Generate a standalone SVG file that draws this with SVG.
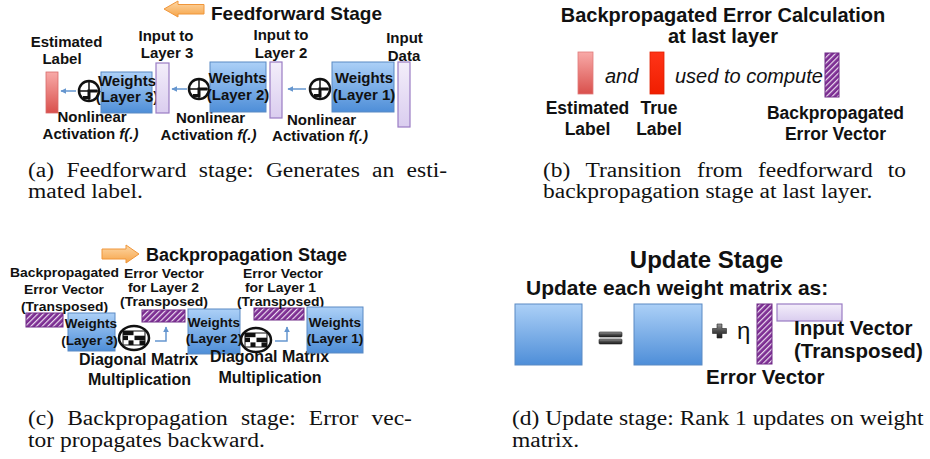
<svg xmlns="http://www.w3.org/2000/svg" width="930" height="459" viewBox="0 0 930 459">
<style>
.lb{font-family:"Liberation Sans",Arial,sans-serif;font-weight:bold;fill:#111}
.it{font-family:"Liberation Sans",Arial,sans-serif;font-style:italic;fill:#111}
.cap{font-family:"Liberation Serif","Times New Roman",serif;font-size:20px;fill:#111}
.mid{text-anchor:middle}
.s15{font-size:15px}
.s13{font-size:13px}
.s135{font-size:13.5px}
.s16{font-size:16px}
.s175{font-size:17.5px}
.s20{font-size:20px}
.s205{font-size:20.5px}
.w{fill:url(#blueG);stroke:#5b8ac4;stroke-width:1}
.lav{fill:url(#lavG);stroke:#9a7cc4;stroke-width:1.2}
.hatch{fill:url(#hatch);stroke:#6e2a86;stroke-width:1}
.orange{fill:url(#orG);stroke:#f0963a;stroke-width:1}
.conn{fill:none;stroke:#6596cf;stroke-width:1.5;marker-end:url(#ah)}
.gray{fill:url(#grayG);stroke:#222;stroke-width:0.6}
</style>
<defs>
<linearGradient id="blueG" x1="0" y1="0" x2="0" y2="1"><stop offset="0" stop-color="#acd0f7"/><stop offset="1" stop-color="#4e8ed8"/></linearGradient>
<linearGradient id="lavG" x1="0" y1="0" x2="0" y2="1"><stop offset="0" stop-color="#f3eefa"/><stop offset="1" stop-color="#dacdef"/></linearGradient>
<linearGradient id="redG" x1="0" y1="0" x2="0" y2="1"><stop offset="0" stop-color="#f8aaa8"/><stop offset="1" stop-color="#d9504c"/></linearGradient>
<linearGradient id="trueG" x1="0" y1="0" x2="0" y2="1"><stop offset="0" stop-color="#ff3418"/><stop offset="1" stop-color="#f01e00"/></linearGradient>
<linearGradient id="orG" x1="0" y1="0" x2="0" y2="1"><stop offset="0" stop-color="#fdd7a6"/><stop offset="1" stop-color="#f6a448"/></linearGradient>
<linearGradient id="grayG" x1="0" y1="0" x2="0" y2="1"><stop offset="0" stop-color="#9a9a9a"/><stop offset="0.5" stop-color="#4a4a4a"/><stop offset="1" stop-color="#1a1a1a"/></linearGradient>
<pattern id="hatch" width="4" height="4" patternUnits="userSpaceOnUse" patternTransform="rotate(45)"><rect width="4" height="4" fill="#7c2d92"/><rect width="1.2" height="4" fill="#ecdcf0"/></pattern>
<marker id="ah" viewBox="0 0 10 10" refX="9" refY="5" markerWidth="6" markerHeight="6" orient="auto" markerUnits="userSpaceOnUse"><path d="M0,0 L10,5 L0,10 z" fill="#6596cf"/></marker>
<g id="act">
<circle r="10" fill="#fff" stroke="#111" stroke-width="2.5"/>
<path d="M-10 0H10M0 -10V10" stroke="#111" stroke-width="1.5"/>
<path d="M-6 6.5H0V0H8" fill="none" stroke="#111" stroke-width="3"/>
</g>
<g id="diag">
<ellipse rx="15" ry="12" fill="#fff" stroke="#111" stroke-width="2.5"/>
<rect x="-11" y="-7" width="22" height="14" fill="#fff" stroke="#111" stroke-width="1"/>
<rect x="-11" y="-7" width="10.5" height="4.2" fill="#111"/>
<rect x="-11" y="-2.3" width="5" height="4.4" fill="#111"/>
<rect x="0.5" y="-2.3" width="10.5" height="4.4" fill="#111"/>
<rect x="-5.5" y="2.4" width="5" height="4.6" fill="#111"/>
<rect x="5.5" y="2.4" width="5.5" height="4.6" fill="#111"/>
</g>
</defs>
<rect width="930" height="459" fill="#fff"/>

<!-- (a) Feedforward -->
<g id="a-title">
<path class="orange" d="M164,9 L178,1 L178,4.5 L204,4.5 L204,14 L178,14 L178,17 Z"/>
<text class="lb" x="211" y="20" font-size="19px">Feedforward Stage</text>
</g>
<g id="a-estimated">
<rect x="46" y="72" width="12" height="41" fill="url(#redG)" stroke="#d86a6a" stroke-width="0.8"/>
<text class="lb s15 mid" x="66.5" y="47">Estimated</text>
<text class="lb s15 mid" x="62" y="64">Label</text>
</g>
<g id="a-act3">
<use href="#act" x="89" y="91"/>
<text class="lb s15 mid" x="92" y="122">Nonlinear</text>
<text class="lb s15 mid" x="90.5" y="139">Activation <tspan font-style="italic">f(.)</tspan></text>
</g>
<g id="a-w3">
<rect class="w" x="101" y="72" width="51" height="41"/>
<text class="lb s15 mid" x="127" y="86">Weights</text>
<text class="lb s15 mid" x="127" y="102">(Layer 3)</text>
</g>
<g id="a-in3">
<rect class="lav" x="156" y="63" width="13" height="50"/>
<text class="lb s15 mid" x="166" y="41">Input to</text>
<text class="lb s15 mid" x="167" y="58">Layer 3</text>
</g>
<g id="a-act2">
<use href="#act" x="199" y="89"/>
<text class="lb s15 mid" x="210.5" y="123">Nonlinear</text>
<text class="lb s15 mid" x="208.5" y="140">Activation <tspan font-style="italic">f(.)</tspan></text>
</g>
<g id="a-w2">
<rect class="w" x="210" y="62" width="56" height="50"/>
<text class="lb s15 mid" x="237.5" y="83">Weights</text>
<text class="lb s15 mid" x="238" y="100">(Layer 2)</text>
</g>
<g id="a-in2">
<rect class="lav" x="270" y="62" width="12" height="56"/>
<text class="lb s15 mid" x="281" y="40">Input to</text>
<text class="lb s15 mid" x="281" y="58">Layer 2</text>
</g>
<g id="a-act1">
<use href="#act" x="320" y="89"/>
<text class="lb s15 mid" x="321.5" y="125">Nonlinear</text>
<text class="lb s15 mid" x="320" y="141">Activation <tspan font-style="italic">f(.)</tspan></text>
</g>
<g id="a-w1">
<rect class="w" x="332" y="62" width="62" height="50"/>
<text class="lb s15 mid" x="364" y="83">Weights</text>
<text class="lb s15 mid" x="364" y="100">(Layer 1)</text>
</g>
<g id="a-data">
<rect class="lav" x="398" y="62" width="12" height="65"/>
<text class="lb s15 mid" x="404.5" y="43">Input</text>
<text class="lb s15 mid" x="404" y="61">Data</text>
</g>

<!-- (b) Transition -->
<g id="b-title">
<text class="lb s20 mid" x="723" y="22">Backpropagated Error Calculation</text>
<text class="lb s20 mid" x="723" y="43">at last layer</text>
</g>
<g id="b-estimated">
<rect x="578" y="52" width="15" height="42" fill="url(#redG)" stroke="#e07a7a" stroke-width="0.8"/>
<text class="lb s175 mid" x="587.5" y="114">Estimated</text>
<text class="lb s175 mid" x="587.5" y="135">Label</text>
</g>
<g id="b-and"><text class="it s20" x="605" y="83">and</text></g>
<g id="b-true">
<rect x="650" y="52" width="14" height="42" fill="url(#trueG)" stroke="#e02000" stroke-width="0.8"/>
<text class="lb s175 mid" x="659" y="114">True</text>
<text class="lb s175 mid" x="659" y="135">Label</text>
</g>
<g id="b-used"><text class="it s20" x="675" y="83">used to compute</text></g>
<g id="b-error">
<rect class="hatch" x="825" y="53" width="14" height="44"/>
<text class="lb s175 mid" x="835.5" y="119">Backpropagated</text>
<text class="lb s175 mid" x="835.5" y="140">Error Vector</text>
</g>

<!-- (c) Backpropagation -->
<g id="c-title">
<path class="orange" d="M102,249 L126,249 L126,245 L139,254 L126,263 L126,259 L102,259 Z"/>
<text class="lb" x="146" y="261" font-size="18px">Backpropagation Stage</text>
</g>
<g id="c-err3">
<rect class="hatch" x="26" y="313" width="37" height="14"/>
<text class="lb s13 mid" x="64.5" y="277" textLength="109" lengthAdjust="spacingAndGlyphs">Backpropagated</text>
<text class="lb s13 mid" x="64" y="294" textLength="80" lengthAdjust="spacingAndGlyphs">Error Vector</text>
<text class="lb s13 mid" x="64.5" y="311" textLength="87" lengthAdjust="spacingAndGlyphs">(Transposed)</text>
</g>
<g id="c-w3">
<rect class="w" x="68" y="313" width="47" height="38"/>
<text class="lb s135 mid" x="91" y="328">Weights</text>
<text class="lb s135 mid" x="89.5" y="345">(Layer 3)</text>
</g>
<g id="c-diag1">
<use href="#diag" x="134" y="338"/>
<text class="lb s16 mid" x="138.5" y="365">Diagonal Matrix</text>
<text class="lb s16 mid" x="139.5" y="385">Multiplication</text>
</g>
<g id="c-err2">
<rect class="hatch" x="142" y="310" width="43" height="12"/>
<text class="lb s13 mid" x="164" y="278" textLength="80" lengthAdjust="spacingAndGlyphs">Error Vector</text>
<text class="lb s13 mid" x="163.5" y="292" textLength="71" lengthAdjust="spacingAndGlyphs">for Layer 2</text>
<text class="lb s13 mid" x="164" y="306" textLength="88" lengthAdjust="spacingAndGlyphs">(Transposed)</text>
</g>
<g id="c-w2">
<rect class="w" x="188" y="309" width="52" height="45"/>
<text class="lb s135 mid" x="214" y="327">Weights</text>
<text class="lb s135 mid" x="214" y="343">(Layer 2)</text>
</g>
<g id="c-diag2">
<use href="#diag" x="256" y="340"/>
<text class="lb s16 mid" x="269.5" y="362">Diagonal Matrix</text>
<text class="lb s16 mid" x="270" y="383">Multiplication</text>
</g>
<g id="c-err1">
<rect class="hatch" x="254" y="308" width="50" height="12"/>
<text class="lb s13 mid" x="283" y="277.5" textLength="80" lengthAdjust="spacingAndGlyphs">Error Vector</text>
<text class="lb s13 mid" x="280.5" y="291.5" textLength="71" lengthAdjust="spacingAndGlyphs">for Layer 1</text>
<text class="lb s13 mid" x="280.5" y="306" textLength="87" lengthAdjust="spacingAndGlyphs">(Transposed)</text>
</g>
<g id="c-w1">
<rect class="w" x="307" y="307" width="56" height="46"/>
<text class="lb s135 mid" x="335" y="327">Weights</text>
<text class="lb s135 mid" x="335" y="343">(Layer 1)</text>
</g>

<!-- (d) Update -->
<g id="d-title">
<text class="lb mid" x="706.5" y="268" font-size="24px">Update Stage</text>
<text class="lb" x="526" y="295" font-size="21px">Update each weight matrix as:</text>
</g>
<g id="d-wnew"><rect class="w" x="515" y="304" width="67" height="61"/></g>
<g id="d-eq">
<rect class="gray" x="599" y="332" width="23" height="5" rx="1"/>
<rect class="gray" x="599" y="339" width="23" height="5" rx="1"/>
</g>
<g id="d-wold"><rect class="w" x="634" y="304" width="68" height="61"/></g>
<g id="d-plus">
<path class="gray" d="M717,324 H722 V328.5 H726.5 V333.5 H722 V338 H717 V333.5 H712.5 V328.5 H717 Z"/>
<text x="737" y="339" font-family="Liberation Sans, Arial, sans-serif" font-size="24px" fill="#111">η</text>
</g>
<g id="d-err">
<rect class="hatch" x="757" y="304" width="15" height="60"/>
<text class="lb s205" x="706" y="384">Error Vector</text>
</g>
<g id="d-input">
<rect class="lav" x="777" y="304" width="65" height="17"/>
<text class="lb s205" x="794" y="335">Input Vector</text>
<text class="lb s205" x="794" y="358">(Transposed)</text>
</g>

<!-- connectors -->
<g id="connectors">
<path class="conn" d="M76,91 H61"/>
<path class="conn" d="M187,89 H172"/>
<path class="conn" d="M306,89 H288"/>
<path class="conn" d="M155,341 H166 V327"/>
<path class="conn" d="M275,341 H287 V327"/>
</g>

<!-- captions (horizontally widened serif text) -->
<g id="captions">
<text class="cap" transform="scale(1.175,1)" y="177"><tspan x="23.83">(a)</tspan><tspan x="56.51">Feedforward</tspan><tspan x="169.19">stage:</tspan><tspan x="226.3">Generates</tspan><tspan x="316.68">an</tspan><tspan x="346.04">esti-</tspan></text>
<text class="cap" transform="scale(1.175,1)" x="23.83" y="198">mated label.</text>
<text class="cap" transform="scale(1.175,1)" y="177"><tspan x="462.13">(b)</tspan><tspan x="498.3">Transition</tspan><tspan x="593.28">from</tspan><tspan x="645.02">feedforward</tspan><tspan x="755.49">to</tspan></text>
<text class="cap" transform="scale(1.175,1)" x="462.13" y="198">backpropagation stage at last layer.</text>
<text class="cap" transform="scale(1.175,1)" y="425"><tspan x="23.83">(c)</tspan><tspan x="57.19">Backpropagation</tspan><tspan x="205.02">stage:</tspan><tspan x="262.81">Error</tspan><tspan x="316.17">vec-</tspan></text>
<text class="cap" transform="scale(1.175,1)" x="23.83" y="447">tor propagates backward.</text>
<text class="cap" transform="scale(1.175,1)" x="435.74" y="425">(d) Update stage: Rank 1 updates on weight</text>
<text class="cap" transform="scale(1.175,1)" x="435.74" y="447">matrix.</text>
</g>
</svg>
